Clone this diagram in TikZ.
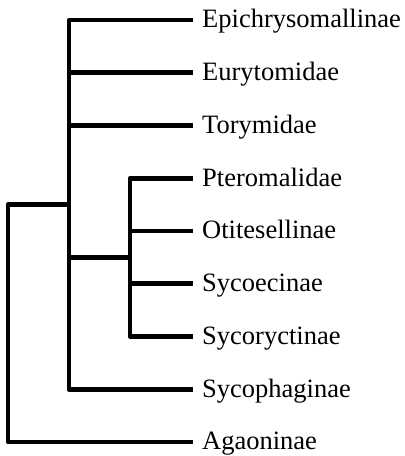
\documentclass[tikz,border=0pt]{standalone}
\usepackage{fontspec}
\setmainfont{Liberation Serif}
\begin{document}
\begin{tikzpicture}[x=1pt,y=1pt,
  branch/.style={line width=4.6pt, line join=round, line cap=butt},
  leaf/.style={anchor=west, inner xsep=9pt, inner ysep=0pt, text height=18pt, text depth=2pt,
    font=\fontsize{26.5}{28}\selectfont}]
\useasboundingbox (0,0) rectangle (405,456);
\node[leaf] (epi)   at (193,436)    {Epichrysomallinae};
\node[leaf] (eury)  at (193,383.25) {Eurytomidae};
\node[leaf] (tory)  at (193,330.5)  {Torymidae};
\node[leaf] (pter)  at (193,277.75) {Pteromalidae};
\node[leaf] (otit)  at (193,225)    {Otitesellinae};
\node[leaf] (syco)  at (193,172.25) {Sycoecinae};
\node[leaf] (sycr)  at (193,119.5)  {Sycoryctinae};
\node[leaf] (syph)  at (193,66.75)  {Sycophaginae};
\node[leaf] (agao)  at (193,14)     {Agaoninae};
\coordinate (c1) at (69,251.4);
\coordinate (c2) at (130,198.6);
\coordinate (root) at (8,14);
\draw[branch] (epi.west) -| (c1) |- (syph.west);
\draw[branch] (c1 |- eury.west) -- (eury.west);
\draw[branch] (c1 |- tory.west) -- (tory.west);
\draw[branch] (c1 |- c2) -- (c2);
\draw[branch] (pter.west) -| (c2) |- (sycr.west);
\draw[branch] (c2 |- otit.west) -- (otit.west);
\draw[branch] (c2 |- syco.west) -- (syco.west);
\draw[branch] (c1) -| (root) -- (agao.west);
\end{tikzpicture}
\end{document}
